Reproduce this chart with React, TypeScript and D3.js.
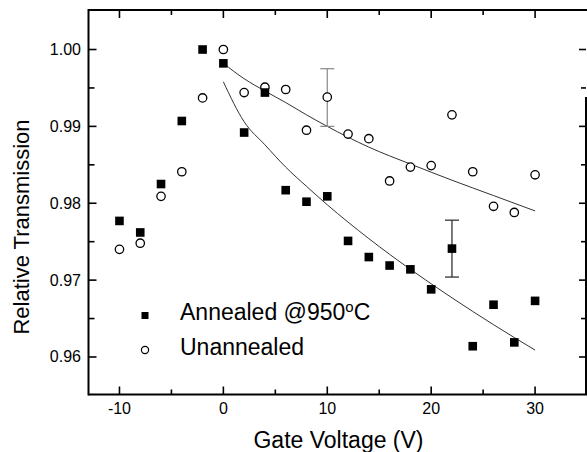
import React from 'react';
import * as d3 from 'd3';

// gate voltages (V)
const gateVoltage = [-10, -8, -6, -4, -2, 0, 2, 4, 6, 8, 10, 12, 14, 16, 18, 20, 22, 24, 26, 28, 30];

// relative transmission, annealed @950C (filled squares)
const annealed = [0.9777, 0.9762, 0.9825, 0.9907, 1.0, 0.9982, 0.9892, 0.9944, 0.9817, 0.9802, 0.9809,
  0.9751, 0.973, 0.9719, 0.9714, 0.9688, 0.9741, 0.9614, 0.9668, 0.9619, 0.9673];

// relative transmission, unannealed (open circles)
const unannealed = [0.974, 0.9748, 0.9809, 0.9841, 0.9937, 1.0, 0.9944, 0.9951, 0.9948, 0.9895, 0.9938,
  0.989, 0.9884, 0.9829, 0.9847, 0.9849, 0.9915, 0.9841, 0.9796, 0.9788, 0.9837];

// error bars [x, low, high]
const annealedErr = [22, 0.9704, 0.9778];
const unannealedErr = [10, 0.99, 0.9975];

// fitted curves
const fitX = [0, 2, 4, 6, 8, 10, 14, 18, 22, 26, 30];
const annealedFit = [0.9958, 0.9906, 0.9876, 0.9847, 0.9822, 0.9798, 0.9754, 0.9714, 0.9677, 0.9642, 0.9609];
const unannealedFit = [0.9982, 0.9962, 0.9946, 0.9931, 0.9915, 0.99, 0.9873, 0.9851, 0.983, 0.981, 0.979];

const yTicks = [0.96, 0.97, 0.98, 0.99, 1.0];
const xTicks = [-10, 0, 10, 20, 30];

const W = 587;
const H = 452;
const left = 88.5, right = 586, top = 10, bottom = 394.5;
const font = '"Liberation Sans", Arial, Helvetica, sans-serif';

export default function App() {
  const x = d3.scaleLinear().domain([-12.98, 34.9]).range([left, right]);
  const y = d3.scaleLinear().domain([0.95512, 1.00514]).range([bottom, top]);

  const line = d3.line<number>()
    .x((d, i) => x(fitX[i]))
    .y(d => y(d))
    .curve(d3.curveMonotoneX);

  const minorX = d3.range(-10, 35, 5).filter(v => v % 10 !== 0);
  const minorY = [0.965, 0.975, 0.985, 0.995];

  const errBar = (e: number[], color: string) => (
    <g stroke={color} strokeWidth={1.2}>
      <line x1={x(e[0])} x2={x(e[0])} y1={y(e[1])} y2={y(e[2])} />
      <line x1={x(e[0]) - 7} x2={x(e[0]) + 7} y1={y(e[1])} y2={y(e[1])} />
      <line x1={x(e[0]) - 7} x2={x(e[0]) + 7} y1={y(e[2])} y2={y(e[2])} />
    </g>
  );

  return (
    <svg width={W} height={H} style={{ position: 'absolute', left: 0, top: 0, background: '#fff' }}
      fontFamily={font}>
      {/* frame */}
      <g stroke="#000" strokeWidth={2} fill="none">
        <line x1={left} x2={right + 1} y1={top} y2={top} />
        <line x1={left} x2={right + 1} y1={bottom} y2={bottom} />
        <line x1={left} x2={left} y1={top - 1} y2={bottom + 1} />
        <line x1={right} x2={right} y1={97} y2={bottom} />
      </g>

      {/* ticks */}
      <g stroke="#000" strokeWidth={1.6}>
        {xTicks.map(v => (
          <g key={'xt' + v}>
            <line x1={x(v)} x2={x(v)} y1={bottom} y2={bottom - 8} />
            <line x1={x(v)} x2={x(v)} y1={top} y2={top + 8} />
          </g>
        ))}
        {minorX.map(v => (
          <g key={'xm' + v}>
            <line x1={x(v)} x2={x(v)} y1={bottom} y2={bottom - 5} />
            <line x1={x(v)} x2={x(v)} y1={top} y2={top + 5} />
          </g>
        ))}
        {yTicks.map(v => (
          <g key={'yt' + v}>
            <line x1={left} x2={left + 8} y1={y(v)} y2={y(v)} />
            <line x1={right} x2={right - 7} y1={y(v)} y2={y(v)} />
          </g>
        ))}
        {minorY.map(v => (
          <g key={'ym' + v}>
            <line x1={left} x2={left + 6} y1={y(v)} y2={y(v)} />
            <line x1={right} x2={right - 5} y1={y(v)} y2={y(v)} />
          </g>
        ))}
      </g>

      {/* tick labels */}
      <g fontSize={16} fill="#000">
        {xTicks.map(v => (
          <text key={'xl' + v} x={x(v)} y={414} textAnchor="middle">{v}</text>
        ))}
        {yTicks.map(v => (
          <text key={'yl' + v} x={81} y={y(v) + 5.5} textAnchor="end">{d3.format('.2f')(v)}</text>
        ))}
      </g>

      {/* axis titles */}
      <text x={338.5} y={448} fontSize={23} textAnchor="middle">Gate Voltage (V)</text>
      <text transform="translate(29,227) rotate(-90)" fontSize={22} textAnchor="middle">Relative Transmission</text>

      {/* fits */}
      <path d={line(annealedFit) || ''} fill="none" stroke="#333" strokeWidth={1} />
      <path d={line(unannealedFit) || ''} fill="none" stroke="#333" strokeWidth={1} />

      {/* error bars */}
      {errBar(unannealedErr, '#888')}
      {errBar(annealedErr, '#222')}

      {/* data */}
      {unannealed.map((v, i) => (
        <circle key={'u' + i} cx={x(gateVoltage[i])} cy={y(v)} r={4.2} fill="#fff" stroke="#000" strokeWidth={1.3} />
      ))}
      {annealed.map((v, i) => (
        <rect key={'a' + i} x={x(gateVoltage[i]) - 4.3} y={y(v) - 4.3} width={8.6} height={8.6} fill="#000" />
      ))}

      {/* legend */}
      <rect x={141.5} y={312} width={7} height={7} fill="#000" />
      <circle cx={145} cy={350} r={3.6} fill="#fff" stroke="#000" strokeWidth={1.2} />
      <text x={180} y={320} fontSize={23}>
        Annealed @950<tspan dy={-8} fontSize={15}>o</tspan><tspan dy={8}>C</tspan>
      </text>
      <text x={180} y={355} fontSize={23}>Unannealed</text>
    </svg>
  );
}
